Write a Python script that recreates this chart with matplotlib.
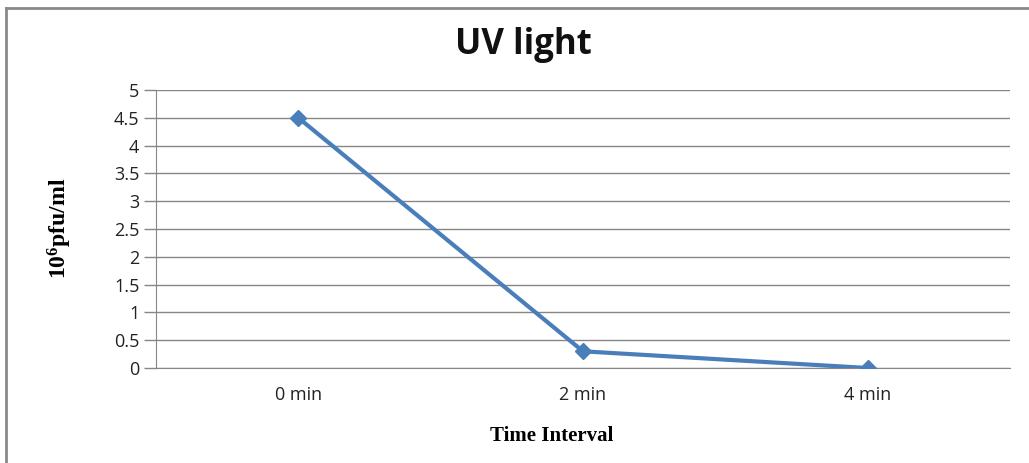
import matplotlib.pyplot as plt
from matplotlib.lines import Line2D

plt.rcParams['mathtext.fontset'] = 'custom'
plt.rcParams['mathtext.rm'] = 'Liberation Serif:bold'
plt.rcParams['mathtext.bf'] = 'Liberation Serif:bold'

categorias = ['0 min', '2 min', '4 min']
valores = [4.5, 0.3, 0.0]
yticks = [0, 0.5, 1, 1.5, 2, 2.5, 3, 3.5, 4, 4.5, 5]

W, H = 1029, 463
fig = plt.figure(figsize=(W / 100, H / 100), dpi=100)
ax = fig.add_axes([156 / W, 95 / H, 854 / W, 278 / H])

# Linha dos dados
x = list(range(len(categorias)))
ax.plot(x, valores, color='#4A7EBB', linewidth=3, marker='D', markersize=8, zorder=3)

ax.set_xlim(-0.5, len(categorias) - 0.5)
ax.set_ylim(0, 5)
ax.set_xticks(x)
ax.set_xticklabels(categorias, fontfamily='Open Sans', fontsize=13)
ax.set_yticks(yticks)
ax.set_yticklabels([f'{v:g}' for v in yticks], fontfamily='Open Sans', fontsize=13)
ax.tick_params(axis='x', length=0, pad=13, colors='#222222')
ax.tick_params(axis='y', length=9, width=1, pad=3, colors='#222222')
ax.tick_params(axis='y', color='#868686')

ax.grid(axis='y', color='#868686', linewidth=1)
ax.set_axisbelow(True)
for lado in ['top', 'right']:
    ax.spines[lado].set_visible(False)
ax.spines['left'].set_color('#868686')
ax.spines['bottom'].set_color('#868686')

# Títulos
fig.text(523 / W, 1 - 45 / H, 'UV light', fontfamily='Open Sans', fontweight='bold',
         fontsize=25, ha='center', va='center', color='#111111')
fig.text(60 / W, 1 - 228 / H, r'$\mathrm{10^{6}}$pfu/ml', fontfamily='Liberation Serif',
         fontweight='bold', fontsize=17, rotation=90, ha='center', va='center')
fig.text(552 / W, 1 - 436 / H, 'Time Interval', fontfamily='Liberation Serif',
         fontweight='bold', fontsize=15, ha='center', va='center')

# Moldura externa
fig.add_artist(Line2D([6 / W, 1], [1 - 8 / H, 1 - 8 / H], color='#8a8a8a', linewidth=2))
fig.add_artist(Line2D([6 / W, 6 / W], [0, 1 - 8 / H], color='#8a8a8a', linewidth=2))

fig.savefig('out.png', dpi=100)
